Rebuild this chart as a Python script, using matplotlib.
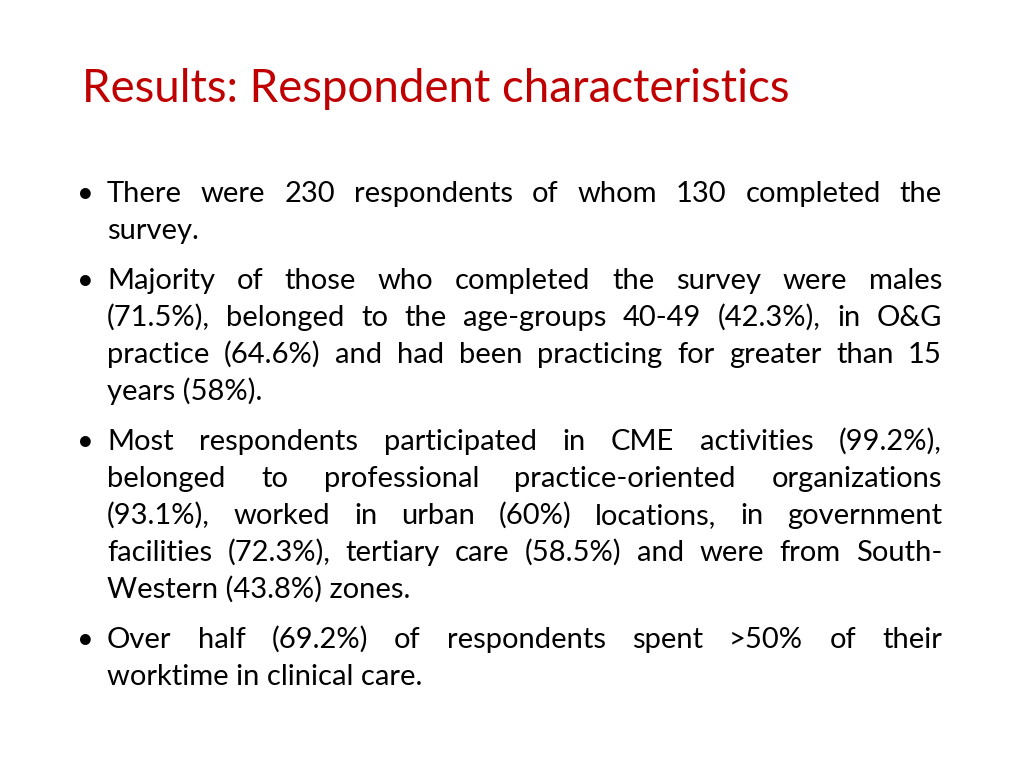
import matplotlib
matplotlib.use("Agg")
import matplotlib.pyplot as plt

W, H = 1024, 768
FONT = "Lato"

TITLE = "Results: Respondent characteristics"
TITLE_COLOR = "#C00000"

# each bullet: list of wrapped lines (last line is left aligned, others justified)
BULLETS = [
    ["There were 230 respondents of whom 130 completed the",
     "survey."],
    ["Majority of those who completed the survey were males",
     "(71.5%), belonged to the age-groups 40-49 (42.3%), in O&G",
     "practice (64.6%) and had been practicing for greater than 15",
     "years (58%)."],
    ["Most respondents participated in CME activities (99.2%),",
     "belonged to professional practice-oriented organizations",
     "(93.1%), worked in urban (60%) locations, in government",
     "facilities (72.3%), tertiary care (58.5%) and were from South-",
     "Western (43.8%) zones."],
    ["Over half (69.2%) of respondents spent >50% of their",
     "worktime in clinical care."],
]

LEFT, RIGHT = 107, 942
BULLET_X = 85
FIRST_BASE = 202
LINE_STEP = 37
PARA_GAP = 13


def fx(x):
    return x / W


def fy(y):
    return 1 - y / H


fig = plt.figure(figsize=(W / 100, H / 100), dpi=100)
fig.patch.set_facecolor("white")
renderer = fig.canvas.get_renderer()


def text_width(s, size):
    t = fig.text(0, 0, s, fontsize=size, family=FONT)
    w = t.get_window_extent(renderer).width
    t.remove()
    return w


# title, sized to span the same width as the reference
title_size = 30 * 708 / text_width(TITLE, 30)
fig.text(fx(82), fy(102), TITLE, fontsize=title_size, family=FONT,
         color=TITLE_COLOR, va="baseline", ha="left")

# body size: widest justified line must fit its natural width in the column
base = 20
widest = max(text_width(ln, base) for para in BULLETS for ln in para[:-1])
body_size = min(base * (RIGHT - LEFT) / widest, 21)

y = FIRST_BASE
for para in BULLETS:
    fig.text(fx(BULLET_X), fy(y), "\u2022", fontsize=body_size, family=FONT,
             va="baseline", ha="center")
    for i, line in enumerate(para):
        words = line.split(" ")
        if i == len(para) - 1 or len(words) == 1:
            fig.text(fx(LEFT), fy(y), line, fontsize=body_size, family=FONT,
                     va="baseline", ha="left")
        else:
            widths = [text_width(wd, body_size) for wd in words]
            gap = (RIGHT - LEFT - sum(widths)) / (len(words) - 1)
            x = LEFT
            for wd, w in zip(words, widths):
                fig.text(fx(x), fy(y), wd, fontsize=body_size, family=FONT,
                         va="baseline", ha="left")
                x += w + gap
        y += LINE_STEP
    y += PARA_GAP

fig.savefig("out.png", dpi=100)
